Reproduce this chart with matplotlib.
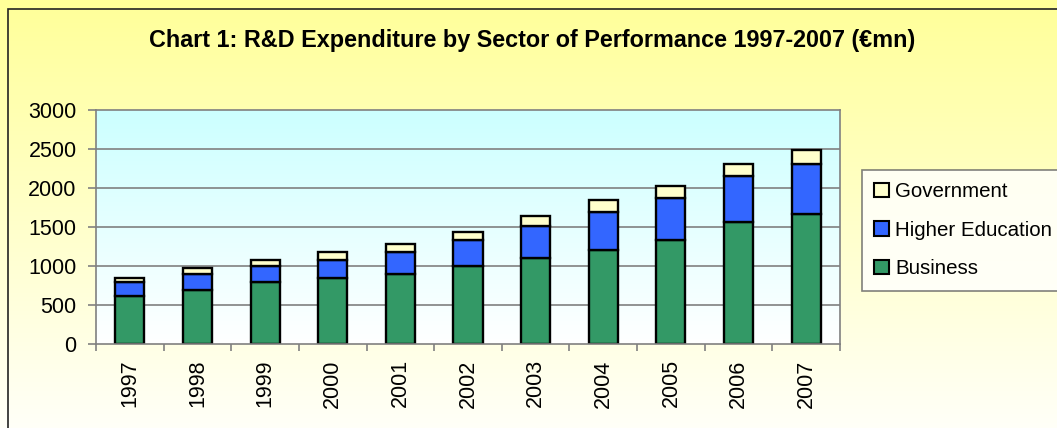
import numpy as np
import matplotlib
matplotlib.use("Agg")
import matplotlib.pyplot as plt
from matplotlib.colors import LinearSegmentedColormap
from matplotlib.patches import Rectangle, Patch

years = ["1997", "1998", "1999", "2000", "2001", "2002", "2003", "2004", "2005", "2006", "2007"]
business = [610, 692, 799, 850, 902, 1000, 1103, 1205, 1333, 1569, 1667]
higher_education = [180, 210, 197, 227, 278, 329, 410, 487, 539, 585, 641]
government = [52, 77, 85, 107, 106, 111, 128, 159, 154, 158, 179]
yticks = [0, 500, 1000, 1500, 2000, 2500, 3000]
title = "Chart 1: R&D Expenditure by Sector of Performance 1997-2007 (€mn)"

plt.rcParams['font.family'] = ['Liberation Sans', 'DejaVu Sans']

W, H = 1057, 428
fig = plt.figure(figsize=(W / 100, H / 100), dpi=100)

# figure background gradient (yellow to near white)
bg = fig.add_axes([0, 0, 1, 1], zorder=-10)
bg.set_axis_off()
grad = np.linspace(0, 1, 256).reshape(-1, 1)
cmap_bg = LinearSegmentedColormap.from_list("bg", ["#FFFF99", "#FFFFF8"])
bg.imshow(grad, aspect='auto', cmap=cmap_bg, extent=[0, 1, 0, 1], origin='upper')
bg.set_xlim(0, 1)
bg.set_ylim(0, 1)
bg.add_patch(Rectangle((8 / W, -0.1), 1.2, 1.1 - 9 / H, fill=False,
                       edgecolor='#222222', linewidth=1.2))

ax = fig.add_axes([96 / W, 1 - 344 / H, (840 - 96) / W, (344 - 110) / H])
ax.set_facecolor('none')
x = np.arange(len(years))
ax.set_xlim(-0.5, len(years) - 0.5)
ax.set_ylim(0, 3000)

cmap_pa = LinearSegmentedColormap.from_list("pa", ["#CCFFFF", "#FFFFFF"])
ax.imshow(grad, aspect='auto', cmap=cmap_pa, extent=[-0.5, len(years) - 0.5, 0, 3000],
          origin='upper', zorder=0)

for yv in yticks[1:-1]:
    ax.axhline(yv, color='#808080', linewidth=1.2, zorder=1)

bw = 0.43
b = np.array(business)
h = np.array(higher_education)
g = np.array(government)
ax.bar(x, b, bw, color='#339966', edgecolor='black', linewidth=1.7, zorder=3, label='Business')
ax.bar(x, h, bw, bottom=b, color='#3366FF', edgecolor='black', linewidth=1.7, zorder=3,
       label='Higher Education')
ax.bar(x, g, bw, bottom=b + h, color='#FFFFCC', edgecolor='black', linewidth=1.7, zorder=3,
       label='Government')

for s in ax.spines.values():
    s.set_color('#808080')
    s.set_linewidth(1.2)
    s.set_zorder(4)

ax.set_yticks(yticks)
ax.set_yticklabels([str(v) for v in yticks], fontsize=15.5)
ax.tick_params(axis='y', length=6, width=1.2, color='#808080', pad=8)

ax.set_xticks(x)
ax.set_xticklabels(years, rotation=90, fontsize=15.5)
ax.set_xticks(np.arange(-0.5, len(years), 1), minor=True)
ax.tick_params(axis='x', which='major', length=0, pad=11)
ax.tick_params(axis='x', which='minor', length=5, width=1.2, color='#808080')

fig.text(532 / W, 1 - 41 / H, title, ha='center', va='center', fontsize=16.8,
         fontweight='bold')

handles = [Patch(facecolor='#FFFFCC', edgecolor='black', linewidth=1.5),
           Patch(facecolor='#3366FF', edgecolor='black', linewidth=1.5),
           Patch(facecolor='#339966', edgecolor='black', linewidth=1.5)]
leg = fig.legend(handles, ['Government', 'Higher Education', 'Business'],
                 loc='upper left', bbox_to_anchor=(862 / W, 1 - 170 / H),
                 fontsize=14.8, frameon=True, fancybox=False, handlelength=0.7,
                 handleheight=0.7, handletextpad=0.3, labelspacing=0.95,
                 borderpad=0.6, borderaxespad=0)
leg.get_frame().set_edgecolor('#606060')
leg.get_frame().set_linewidth(1.2)
leg.get_frame().set_facecolor('white')

fig.savefig("out.png", dpi=100)
